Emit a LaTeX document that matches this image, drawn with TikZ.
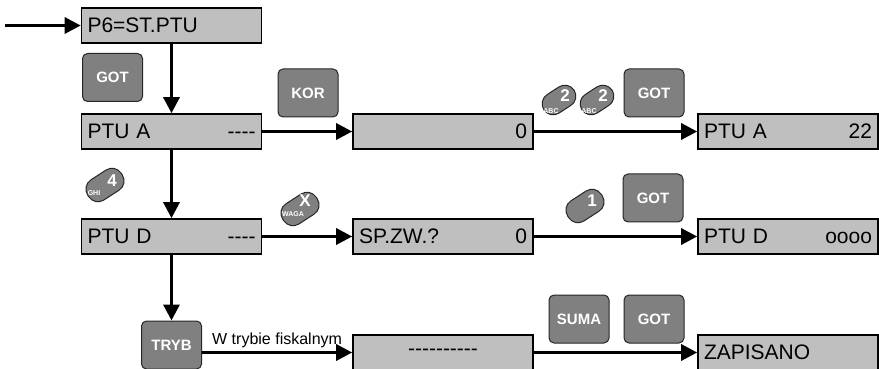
\documentclass[tikz,border=0pt]{standalone}
\usepackage{fontspec}
\setmainfont{Liberation Sans}
\usetikzlibrary{arrows.meta}

\begin{document}
\begin{tikzpicture}[x=0.5pt,y=-0.5pt,
	disp/.style={draw=black, line width=0.8pt, fill=black!25, minimum width=90pt, minimum height=17.5pt, text width=84pt, inner xsep=3pt, inner ysep=0pt, font=\fontsize{10.5}{12}\selectfont},
	key/.style={draw=black!85, line width=0.5pt, fill=black!50, rounded corners=2.5pt, minimum width=30pt, minimum height=24pt, inner sep=0pt, text=white, font=\fontsize{7.5}{9}\selectfont\bfseries},
	pill/.style={draw=black!85, line width=0.5pt, fill=black!50, rounded corners=5.5pt, minimum width=20pt, minimum height=12pt, inner sep=0pt, rotate=33},
	num/.style={text=white, inner sep=0pt, font=\fontsize{8.5}{9}\selectfont\bfseries},
	lett/.style={text=white, inner sep=0pt, font=\fontsize{3.5}{4}\selectfont\bfseries},
	flow/.style={line width=1.6pt, -{Triangle[length=8pt,width=8pt]}}
	]
	\useasboundingbox (0,0) rectangle (879,369);

	\node[disp] (P6) at (171.5,25.5) {P6=ST.PTU};
	\node[disp] (PTUA) at (171.5,131.5) {PTU A\hfill -{}-{}-{}-\hspace{4pt}};
	\node[disp] (zero) at (443,131.5) {\hfill 0\hspace{1.5pt}};
	\node[disp] (PTUA22) at (788,131.5) {PTU A\hfill 22\hspace{1.5pt}};
	\node[disp] (PTUD) at (171.5,236.5) {PTU D\hfill -{}-{}-{}-\hspace{4pt}};
	\node[disp] (SPZW) at (443,236.5) {SP.ZW.?\hfill 0\hspace{1.5pt}};
	\node[disp] (PTUDo) at (788,236.5) {PTU D\hfill oooo};
	\node[disp, align=center] (dashes) at (443,352.5) {-{}-{}-{}-{}-{}-{}-{}-{}-{}-};
	\node[disp] (zapis) at (788,352.5) {ZAPISANO};

	\node[key] (GOTa) at (112.5,77.5) {GOT};
	\node[key] (KOR) at (308,93) {KOR};
	\node[key] (GOTb) at (654,93) {GOT};
	\node[key] (GOTc) at (653,198) {GOT};
	\node[key] (SUMA) at (579,319) {SUMA};
	\node[key] (GOTd) at (654,319) {GOT};
	\node[key] (TRYB) at (171.5,345) {TRYB};

	\node[pill, minimum width=18pt, minimum height=11pt] (k2a) at (559,100) {};
	\node[num] (n2a) at (565,96) {2};
	\node[lett] (l2a) at (551,111) {ABC};
	\node[pill, minimum width=18pt, minimum height=11pt] (k2b) at (597,100) {};
	\node[num] (n2b) at (603,96) {2};
	\node[lett] (l2b) at (589,111) {ABC};
	\node[pill] (k4) at (105,185) {};
	\node[num] (n4) at (112,181) {4};
	\node[lett] (l4) at (94,193) {GHI};
	\node[pill] (kX) at (300,209) {};
	\node[num] (nX) at (305,201) {X};
	\node[lett] (lX) at (293,214) {WAGA};
	\node[pill] (k1) at (585,206) {};
	\node[num] (n1) at (592,201) {1};

	\coordinate (start) at (5,25.5);
	\draw[flow] (start) -- (P6.west);
	\draw[flow] (P6.south) -- (PTUA.north);
	\draw[flow] (PTUA.east) -- (zero.west);
	\draw[flow] (zero.east) -- (PTUA22.west);
	\draw[flow] (PTUA.south) -- (PTUD.north);
	\draw[flow] (PTUD.east) -- (SPZW.west);
	\draw[flow] (SPZW.east) -- (PTUDo.west);
	\draw[flow] (PTUD.south) -- (TRYB.north);
	\draw[flow] (TRYB.east |- dashes.west) -- node[above, inner sep=1.5pt, font=\fontsize{8}{9}\selectfont] (fisk) {W trybie fiskalnym} (dashes.west);
	\draw[flow] (dashes.east) -- (zapis.west);
\end{tikzpicture}
\end{document}
